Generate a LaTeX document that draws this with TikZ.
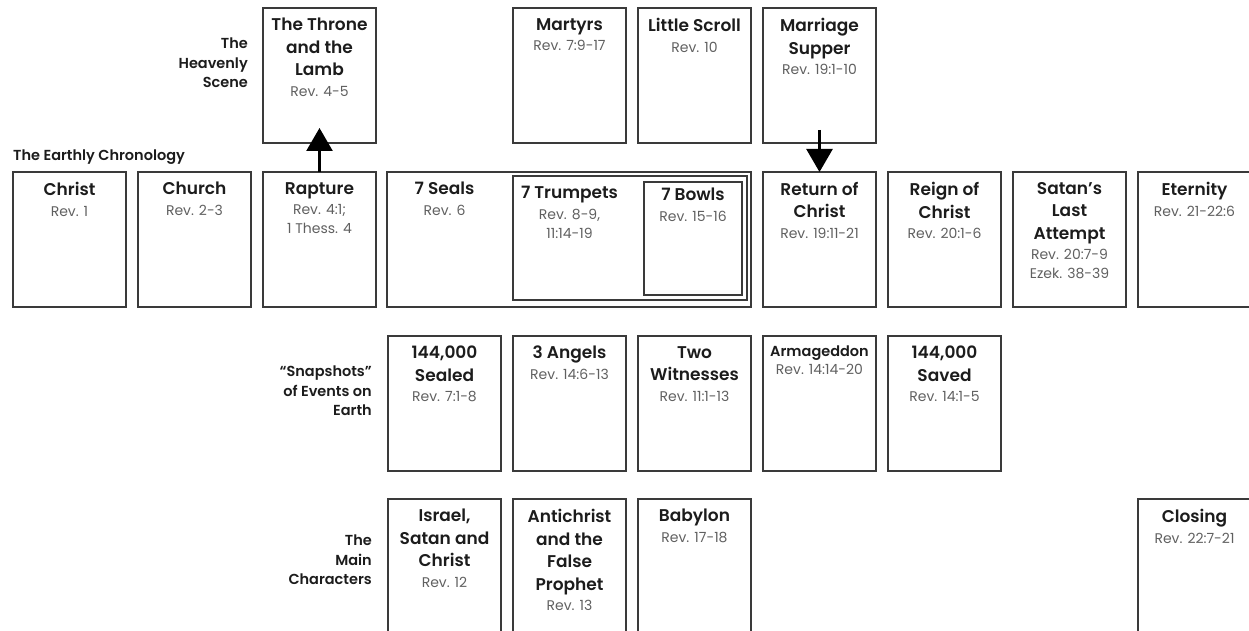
\documentclass[tikz,border=0pt]{standalone}
\usepackage{fontspec}
\setmainfont{Poppins}[BoldFont={Poppins SemiBold}]
\newfontfamily\reffont{Poppins}
\newfontfamily\sidefont{Poppins SemiBold}
\usepackage{tikz}
\usetikzlibrary{arrows.meta,positioning}

\definecolor{boxline}{HTML}{3A3A3A}
\definecolor{refgray}{HTML}{606060}
\definecolor{titleink}{HTML}{1C1C1C}
\newcommand{\revref}[1]{{\mdseries\reffont\fontsize{14}{19}\selectfont\color{refgray}#1}}

\begin{document}
\begin{tikzpicture}[x=1pt, y=-1pt]
 \tikzset{
panel/.style = {rectangle, draw=boxline, line width=1.4pt, inner sep=0pt, outer sep=0pt, minimum width=113pt, minimum height=135pt},
caption/.style = {anchor=north, inner sep=0pt, align=center, text=titleink, font=\bfseries\fontsize{17}{22.5}\selectfont},
rowlabel/.style = {anchor=east, inner sep=0pt, align=right, text=titleink, font=\sidefont\fontsize{14.5}{19.5}\selectfont},
uparrow/.style = {line width=2.6pt, -{Triangle[width=26pt,length=23pt]}}}

    \useasboundingbox (0,0) rectangle (1249,631);
    \clip (0,0) rectangle (1249,631);

    % row labels
    \node [rowlabel] (heaven) at (248,63) {The\\Heavenly\\Scene};
    \node [rowlabel, anchor=west] (earth) at (13,157) {The Earthly Chronology};
    \node [rowlabel] (snaps) at (372,391) {“Snapshots”\\of Events on\\Earth};
    \node [rowlabel] (chars) at (372,560) {The\\Main\\Characters};

    % the heavenly scene
    \node [panel] (throne) at (319.5,75.5) {};
    \node [caption] (throne-t) at ([yshift=-10pt]throne.north) {The Throne\\and the\\Lamb\\[-2pt]\revref{Rev. 4-5}};
    \node [panel] (martyrs) at (569.5,75.5) {};
    \node [caption] (martyrs-t) at ([yshift=-10pt]martyrs.north) {Martyrs\\[-2pt]\revref{Rev. 7:9-17}};
    \node [panel] (scroll) at (694.5,75.5) {};
    \node [caption] (scroll-t) at ([yshift=-10pt]scroll.north) {Little Scroll\\[-2pt]\revref{Rev. 10}};
    \node [panel] (supper) at (819.5,75.5) {};
    \node [caption] (supper-t) at ([yshift=-10pt]supper.north) {Marriage\\Supper\\[-2pt]\revref{Rev. 19:1-10}};

    % the earthly chronology
    \node [panel] (christ) at (69.5,239.5) {};
    \node [caption] (christ-t) at ([yshift=-10pt]christ.north) {Christ\\[-2pt]\revref{Rev. 1}};
    \node [panel] (church) at (194.5,239.5) {};
    \node [caption] (church-t) at ([yshift=-10pt]church.north) {Church\\[-2pt]\revref{Rev. 2-3}};
    \node [panel] (rapture) at (319.5,239.5) {};
    \node [caption] (rapture-t) at ([yshift=-10pt]rapture.north) {Rapture\\[-2pt]\revref{Rev. 4:1;}\\[-3.5pt]\revref{1 Thess. 4}};

    \node [panel, minimum width=364pt] (seals) at (569,239.5) {};
    \node [caption] (seals-t) at (444.5,182) {7 Seals\\[-2pt]\revref{Rev. 6}};
    \node [panel, minimum width=234pt, minimum height=124pt] (trumpets) at (630,238) {};
    \node [caption] (trumpets-t) at (569.5,186) {7 Trumpets\\[-2pt]\revref{Rev. 8-9,}\\[-3.5pt]\revref{11:14-19}};
    \node [panel, minimum width=98pt, minimum height=113pt] (bowls) at (693,238.5) {};
    \node [caption] (bowls-t) at (693,188) {7 Bowls\\[-2pt]\revref{Rev. 15-16}};

    \node [panel] (return) at (819.5,239.5) {};
    \node [caption] (return-t) at ([yshift=-10pt]return.north) {Return of\\Christ\\[-2pt]\revref{Rev. 19:11-21}};
    \node [panel] (reign) at (944.5,239.5) {};
    \node [caption] (reign-t) at ([yshift=-10pt]reign.north) {Reign of\\Christ\\[-2pt]\revref{Rev. 20:1-6}};
    \node [panel] (satan) at (1069.5,239.5) {};
    \node [caption] (satan-t) at ([yshift=-10pt]satan.north) {Satan’s\\Last\\Attempt\\[-2pt]\revref{Rev. 20:7-9}\\[-3.5pt]\revref{Ezek. 38-39}};
    \node [panel] (eternity) at (1194.5,239.5) {};
    \node [caption] (eternity-t) at ([yshift=-10pt]eternity.north) {Eternity\\[-2pt]\revref{Rev. 21-22:6}};

    % snapshots of events on earth
    \node [panel] (sealed) at (444.5,403.5) {};
    \node [caption] (sealed-t) at ([yshift=-10pt]sealed.north) {144,000\\Sealed\\[-2pt]\revref{Rev. 7:1-8}};
    \node [panel] (angels) at (569.5,403.5) {};
    \node [caption] (angels-t) at ([yshift=-10pt]angels.north) {3 Angels\\[-2pt]\revref{Rev. 14:6-13}};
    \node [panel] (witnesses) at (694.5,403.5) {};
    \node [caption] (witnesses-t) at ([yshift=-10pt]witnesses.north) {Two\\Witnesses\\[-2pt]\revref{Rev. 11:1-13}};
    \node [panel] (armageddon) at (819.5,403.5) {};
    \node [caption, font=\bfseries\fontsize{14.5}{19}\selectfont] (armageddon-t) at ([yshift=-10pt]armageddon.north) {Armageddon\\[-1pt]\revref{Rev. 14:14-20}};
    \node [panel] (saved) at (944.5,403.5) {};
    \node [caption] (saved-t) at ([yshift=-10pt]saved.north) {144,000\\Saved\\[-2pt]\revref{Rev. 14:1-5}};

    % the main characters
    \node [panel] (israel) at (444.5,566.5) {};
    \node [caption] (israel-t) at ([yshift=-10pt]israel.north) {Israel,\\Satan and\\Christ\\[-2pt]\revref{Rev. 12}};
    \node [panel] (antichrist) at (569.5,566.5) {};
    \node [caption] (antichrist-t) at ([yshift=-10pt]antichrist.north) {Antichrist\\and the\\False\\Prophet\\[-2pt]\revref{Rev. 13}};
    \node [panel] (babylon) at (694.5,566.5) {};
    \node [caption] (babylon-t) at ([yshift=-10pt]babylon.north) {Babylon\\[-2pt]\revref{Rev. 17-18}};
    \node [panel] (closing) at (1194.5,566.5) {};
    \node [caption] (closing-t) at ([yshift=-10pt]closing.north) {Closing\\[-2pt]\revref{Rev. 22:7-21}};

    % arrows
    \draw [uparrow] (rapture.north) -- ([yshift=15pt]throne.south);
    \draw [uparrow] ([yshift=13pt]supper.south) -- (return.north);

  \end{tikzpicture}
\end{document}
